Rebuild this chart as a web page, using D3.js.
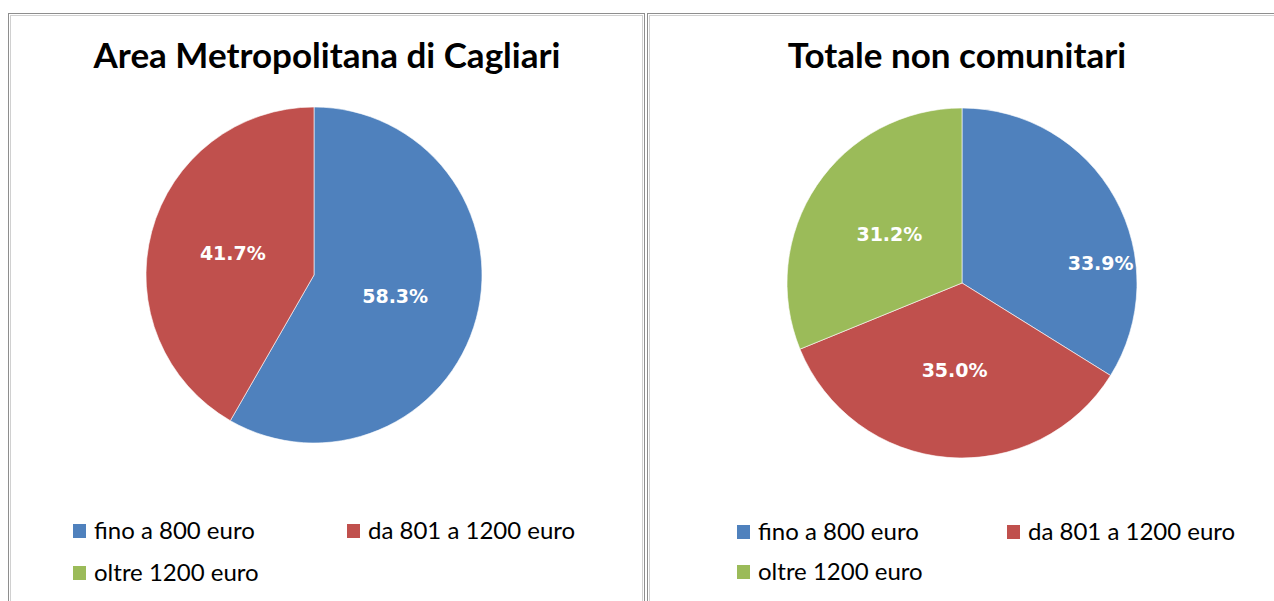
<!DOCTYPE html>
<html>
<head>
<meta charset="utf-8">
<script src="https://cdn.jsdelivr.net/npm/d3@7"></script>
<style>
  body { margin: 0; background: #fff; }
  svg { display: block; }
</style>
</head>
<body>
<div id="chart"></div>
<script>
var categories = ["fino a 800 euro", "da 801 a 1200 euro", "oltre 1200 euro"];
var colors = ["#4f81bd", "#c0504d", "#9bbb59"];

var titles = ["Area Metropolitana di Cagliari", "Totale non comunitari"];
var cagliariValues = [58.3, 41.7, 0];
var nonComunitariValues = [33.9, 35.0, 31.2];

var width = 1274, height = 601;

var svg = d3.select("#chart").append("svg")
  .attr("width", width)
  .attr("height", height);

// panel layout
var panels = [
  {x: 8, w: 636, cx: 314, cy: 275, r: 168, titleX: 327, legX: 73, legX2: 347, legY: 531, legY2: 573, values: cagliariValues,
    labelPos: [null, null, null]},
  {x: 647, w: 640, cx: 962, cy: 283, r: 175, titleX: 957, legX: 737, legX2: 1007, legY: 532, legY2: 572, values: nonComunitariValues,
    labelPos: [{a: 82, f: 0.8}, null, null]}
];

var pie = d3.pie().sort(null).value(d => d.value);

panels.forEach(function(p, pi){
  var g = svg.append("g");

  // double grey frame
  g.append("rect")
    .attr("x", p.x + 0.5).attr("y", 13.5)
    .attr("width", p.w).attr("height", height)
    .attr("fill", "#fff").attr("stroke", "#8e8e8e");
  g.append("rect")
    .attr("x", p.x + 2.5).attr("y", 15.5)
    .attr("width", p.w - 4).attr("height", height)
    .attr("fill", "none").attr("stroke", "#d0d0d0");

  g.append("text")
    .attr("x", p.titleX).attr("y", 68)
    .attr("text-anchor", "middle")
    .style("font-family", "Lato, 'Open Sans', sans-serif")
    .style("font-weight", "bold")
    .style("font-size", "35px")
    .attr("fill", "#000")
    .text(titles[pi]);

  var data = categories.map((c, i) => ({name: c, value: p.values[i], color: colors[i], i: i}));
  var arcs = pie(data);
  var arc = d3.arc().innerRadius(0).outerRadius(p.r);

  var pg = g.append("g").attr("transform", "translate(" + p.cx + "," + p.cy + ")");

  pg.selectAll("path")
    .data(arcs.filter(d => d.data.value > 0))
    .enter().append("path")
    .attr("d", arc)
    .attr("fill", d => d.data.color)
    .attr("stroke", "#fff")
    .attr("stroke-width", 0.6);

  pg.selectAll("text.lbl")
    .data(arcs.filter(d => d.data.value > 0))
    .enter().append("text")
    .attr("class", "lbl")
    .attr("transform", function(d){
      var lp = p.labelPos[d.data.i];
      var a, rr;
      if(lp){
        a = lp.a * Math.PI / 180;
        rr = p.r * lp.f;
      }
      else{
        a = (d.startAngle + d.endAngle) / 2;
        rr = p.r * 0.5;
      }
      return "translate(" + (Math.sin(a) * rr) + "," + (-Math.cos(a) * rr) + ")";
    })
    .attr("text-anchor", "middle")
    .attr("dy", "0.35em")
    .style("font-family", "'DejaVu Sans', Verdana, sans-serif")
    .style("font-weight", "bold")
    .style("font-size", "19px")
    .attr("fill", "#fff")
    .text(d => d.data.value.toFixed(1) + "%");

  // legend
  var legPos = [[p.legX, p.legY], [p.legX2, p.legY], [p.legX, p.legY2]];
  var lg = g.selectAll("g.leg")
    .data(data)
    .enter().append("g")
    .attr("class", "leg")
    .attr("transform", (d, i) => "translate(" + legPos[i][0] + "," + legPos[i][1] + ")");

  lg.append("rect")
    .attr("x", 0).attr("y", -7)
    .attr("width", 13).attr("height", 14)
    .attr("fill", d => d.color);

  lg.append("text")
    .attr("x", 21).attr("y", 0)
    .attr("dy", "0.35em")
    .style("font-family", "Lato, 'Open Sans', sans-serif")
    .style("font-size", "24px")
    .attr("fill", "#000")
    .text(d => d.name);
});
</script>
</body>
</html>
